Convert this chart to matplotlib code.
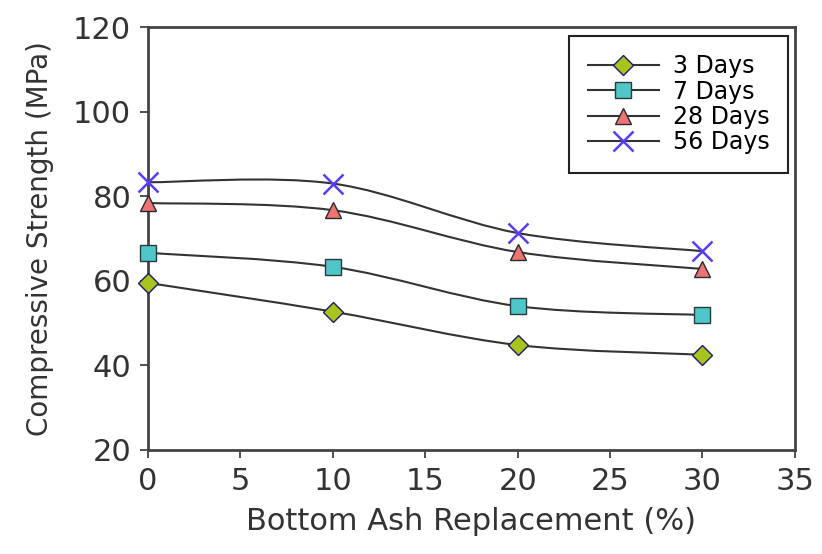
import matplotlib
matplotlib.use("Agg")
import matplotlib.pyplot as plt
from matplotlib.path import Path
from matplotlib.patches import PathPatch
from matplotlib.lines import Line2D

# данные
replacement = [0, 10, 20, 30]
days_3 = [59.5, 52.7, 44.8, 42.5]
days_7 = [66.6, 63.3, 54.0, 51.9]
days_28 = [78.4, 76.7, 66.8, 62.8]
days_56 = [83.3, 83.0, 71.3, 67.0]
labels = ["3 Days", "7 Days", "28 Days", "56 Days"]

plt.rcParams["font.family"] = ["DejaVu Sans"]


def smooth_path(xs, ys):
    # сглаженная линия как в Excel (кривые Безье)
    pts = list(zip(xs, ys))
    verts = [pts[0]]
    codes = [Path.MOVETO]
    n = len(pts)
    for i in range(n - 1):
        p0 = pts[i - 1] if i > 0 else pts[i]
        p1 = pts[i]
        p2 = pts[i + 1]
        p3 = pts[i + 2] if i + 2 < n else pts[i + 1]
        c1 = (p1[0] + (p2[0] - p0[0]) / 6, p1[1] + (p2[1] - p0[1]) / 6)
        c2 = (p2[0] - (p3[0] - p1[0]) / 6, p2[1] - (p3[1] - p1[1]) / 6)
        verts += [c1, c2, p2]
        codes += [Path.CURVE4] * 3
    return Path(verts, codes)


fig = plt.figure(figsize=(8.22, 5.54), dpi=100)
ax = fig.add_axes([0.180, 0.188, 0.787, 0.763])

styles = [
    dict(marker="D", markerfacecolor="#a6c41c", markeredgecolor="#1c1c6a", markersize=10),
    dict(marker="s", markerfacecolor="#4fc6c8", markeredgecolor="#2a3a3a", markersize=11),
    dict(marker="^", markerfacecolor="#ee7474", markeredgecolor="#2a2a2a", markersize=12),
    dict(marker="x", color="#5a3cf0", markeredgecolor="#5a3cf0", markersize=14, markeredgewidth=1.8),
]

handles = []
for ys, lab, st in zip([days_3, days_7, days_28, days_56], labels, styles):
    ax.add_patch(PathPatch(smooth_path(replacement, ys), facecolor="none",
                           edgecolor="#333333", lw=1.5, zorder=2))
    ax.plot(replacement, ys, linestyle="none", zorder=3, clip_on=False, **st)
    handles.append(Line2D([], [], color="#333333", lw=1.5,
                          **{k: v for k, v in st.items() if k != "color"}))

ax.set_xlim(0, 35)
ax.set_ylim(20, 120)
ax.set_xticks(range(0, 36, 5))
ax.set_yticks(range(20, 121, 20))
ax.tick_params(direction="out", length=6, width=1.2, labelsize=22, colors="#333333", pad=6)
for s in ax.spines.values():
    s.set_linewidth(2)
    s.set_color("#444444")

ax.set_xlabel("Bottom Ash Replacement (%)", fontsize=22, color="#333333", labelpad=8)
ax.set_ylabel("Compressive Strength (MPa)", fontsize=20, color="#333333", labelpad=14)

leg = ax.legend(handles, labels, loc="upper right", bbox_to_anchor=(0.99, 0.98),
                borderaxespad=0, fontsize=17, fancybox=False, edgecolor="#222222",
                framealpha=1, handlelength=3.0, labelspacing=0.05, borderpad=0.8,
                handletextpad=0.6)
leg.get_frame().set_linewidth(1.5)

fig.savefig("out.png", dpi=100)
